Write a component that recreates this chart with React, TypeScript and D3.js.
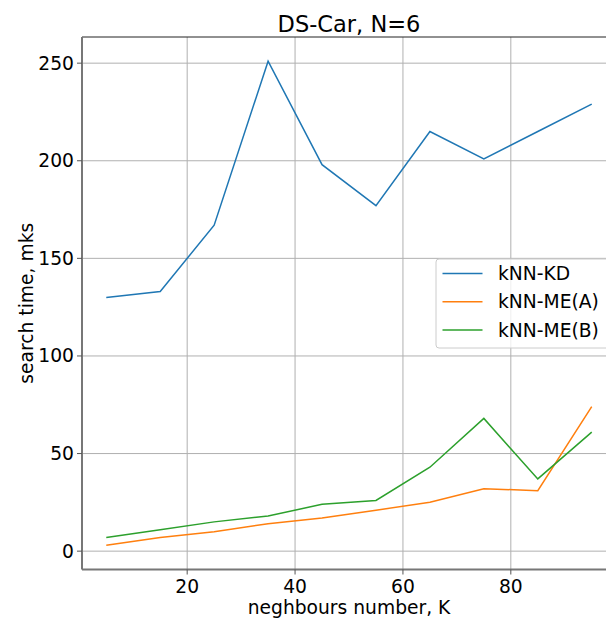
import React, { useEffect, useRef } from 'react';
import * as d3 from 'd3';

const kValues = [5, 15, 25, 35, 45, 55, 65, 75, 85, 95];
const kdTimes = [130, 133, 167, 251, 198, 177, 215, 201, 215, 229];
const meATimes = [3, 7, 10, 14, 17, 21, 25, 32, 31, 74];
const meBTimes = [7, 11, 15, 18, 24, 26, 43, 68, 37, 61];
const seriesNames = ['kNN-KD', 'kNN-ME(A)', 'kNN-ME(B)'];
const seriesColors = ['#1f77b4', '#ff7f0e', '#2ca02c'];
const xTicks = [20, 40, 60, 80];
const yTicks = [0, 50, 100, 150, 200, 250];

const App = () => {
  const chartRef = useRef<SVGSVGElement>(null);

  useEffect(() => {
    document.body.style.margin = '0';
    const svg = d3.select(chartRef.current);
    svg.selectAll('*').remove();

    const left = 82, right = 616, top = 37, bottom = 569.5;
    const font = 'DejaVu Sans, sans-serif';
    const fs = 18.7;

    // matplotlib style 5% margins
    const xScale = d3.scaleLinear().domain([0.5, 99.5]).range([left, right]);
    const yScale = d3.scaleLinear().domain([-9.4, 263.4]).range([bottom, top]);

    // grid
    svg.append('g')
      .selectAll('line')
      .data(xTicks)
      .enter()
      .append('line')
      .attr('x1', (d) => xScale(d)).attr('x2', (d) => xScale(d))
      .attr('y1', top).attr('y2', bottom)
      .attr('stroke', '#b0b0b0').attr('stroke-width', 1);
    svg.append('g')
      .selectAll('line')
      .data(yTicks)
      .enter()
      .append('line')
      .attr('x1', left).attr('x2', right)
      .attr('y1', (d) => yScale(d)).attr('y2', (d) => yScale(d))
      .attr('stroke', '#b0b0b0').attr('stroke-width', 1);

    // lines
    const allSeries = [kdTimes, meATimes, meBTimes];
    const line = d3.line<number>()
      .x((_, i) => xScale(kValues[i]))
      .y((d) => yScale(d));
    allSeries.forEach((s, i) => {
      svg.append('path')
        .datum(s)
        .attr('d', line)
        .attr('fill', 'none')
        .attr('stroke', seriesColors[i])
        .attr('stroke-width', 1.5);
    });

    // spines
    svg.append('line').attr('x1', left).attr('x2', right).attr('y1', top).attr('y2', top)
      .attr('stroke', '#222').attr('stroke-width', 1);
    svg.append('line').attr('x1', left).attr('x2', left).attr('y1', top).attr('y2', bottom)
      .attr('stroke', '#777').attr('stroke-width', 2);
    svg.append('line').attr('x1', left).attr('x2', right).attr('y1', bottom).attr('y2', bottom)
      .attr('stroke', '#777').attr('stroke-width', 2);

    // y ticks
    const yt = svg.append('g').selectAll('g').data(yTicks).enter().append('g');
    yt.append('line')
      .attr('x1', left - 5).attr('x2', left)
      .attr('y1', (d) => yScale(d)).attr('y2', (d) => yScale(d))
      .attr('stroke', '#555').attr('stroke-width', 1);
    yt.append('text')
      .attr('x', left - 8).attr('y', (d) => yScale(d))
      .attr('dy', '0.35em').attr('text-anchor', 'end')
      .attr('font-family', font).attr('font-size', fs).attr('fill', '#000')
      .text((d) => d);

    // x ticks
    const xt = svg.append('g').selectAll('g').data(xTicks).enter().append('g');
    xt.append('line')
      .attr('x1', (d) => xScale(d)).attr('x2', (d) => xScale(d))
      .attr('y1', bottom).attr('y2', bottom + 5)
      .attr('stroke', '#555').attr('stroke-width', 1);
    xt.append('text')
      .attr('x', (d) => xScale(d)).attr('y', bottom + 23)
      .attr('text-anchor', 'middle')
      .attr('font-family', font).attr('font-size', fs).attr('fill', '#000')
      .text((d) => d);

    // labels
    svg.append('text')
      .attr('x', (left + right) / 2).attr('y', 32)
      .attr('text-anchor', 'middle')
      .attr('font-family', font).attr('font-size', 22.5)
      .text('DS-Car, N=6');
    svg.append('text')
      .attr('x', (left + right) / 2).attr('y', 614)
      .attr('text-anchor', 'middle')
      .attr('font-family', font).attr('font-size', fs)
      .text('neghbours number, K');
    svg.append('text')
      .attr('transform', `translate(33, ${(top + bottom) / 2}) rotate(-90)`)
      .attr('text-anchor', 'middle')
      .attr('font-family', font).attr('font-size', fs)
      .text('search time, mks');

    // legend
    const lg = svg.append('g').attr('transform', 'translate(436, 259)');
    lg.append('rect')
      .attr('x', 0).attr('y', 0).attr('width', 185).attr('height', 89)
      .attr('rx', 3)
      .attr('fill', 'white').attr('fill-opacity', 0.8)
      .attr('stroke', '#ccc').attr('stroke-width', 1);
    seriesNames.forEach((name, i) => {
      const y = 14.5 + i * 28.3;
      lg.append('line')
        .attr('x1', 6.5).attr('x2', 46.5).attr('y1', y).attr('y2', y)
        .attr('stroke', seriesColors[i]).attr('stroke-width', 1.5);
      lg.append('text')
        .attr('x', 62).attr('y', y).attr('dy', '0.35em')
        .attr('font-family', font).attr('font-size', fs)
        .text(name);
    });
  }, []);

  return (
    <div style={{ background: 'white' }}>
      <svg ref={chartRef} width={606} height={619} style={{ display: 'block' }}></svg>
    </div>
  );
};

export default App;
